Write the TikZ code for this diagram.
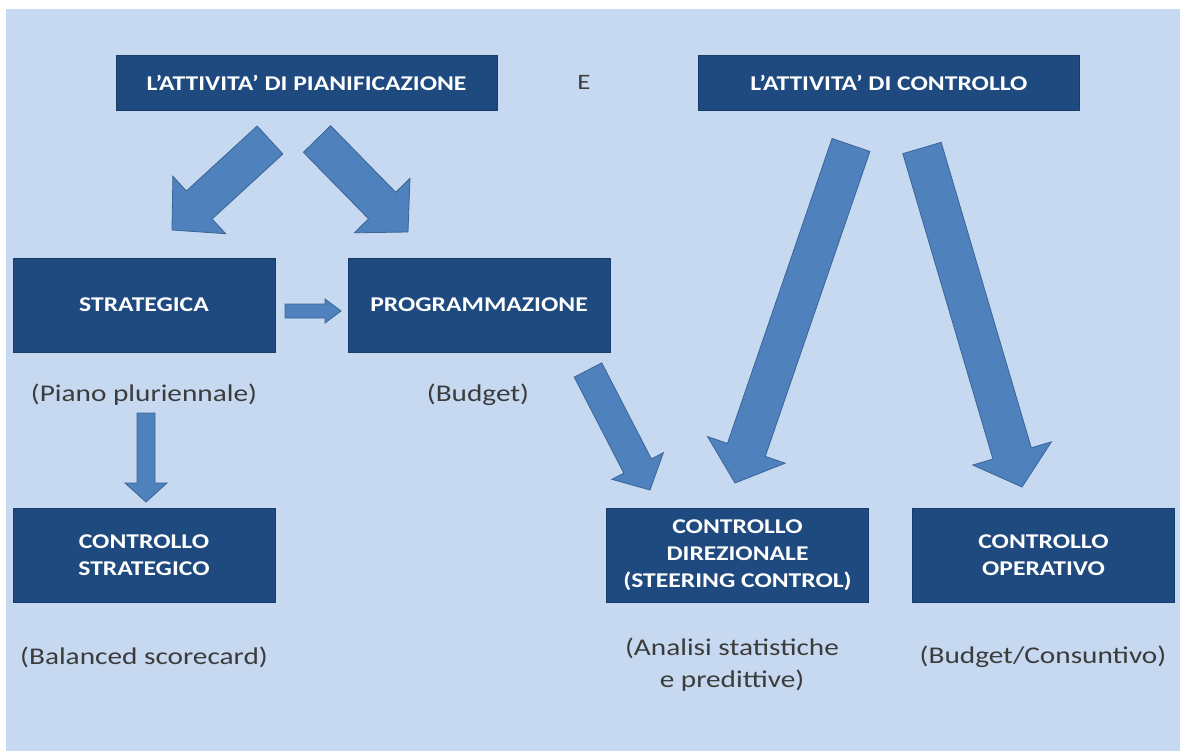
\documentclass[tikz,border=0pt]{standalone}
\usepackage{fontspec}
\setmainfont{Carlito}[FakeStretch=1.22]
\usetikzlibrary{calc}

\definecolor{bgblue}{HTML}{C6D9F0}
\definecolor{boxblue}{HTML}{1F4A80}
\definecolor{boxedge}{HTML}{183C69}
\definecolor{arrowblue}{HTML}{4F81BD}
\definecolor{arrowedge}{HTML}{3A6597}
\definecolor{labelgray}{HTML}{3C3C3C}

% block arrow: tail, tip, half shaft, half head, head length
\newcommand{\blockarrow}[5]{%
  \coordinate (hb) at ($(#2)!#5!(#1)$);
  \filldraw[arrowbody] ($(#1)!#3!90:(#2)$) -- ($(hb)!#3!90:(#2)$)
    -- ($(hb)!#4!90:(#2)$) -- (#2) -- ($(hb)!#4!-90:(#2)$)
    -- ($(hb)!#3!-90:(#2)$) -- ($(#1)!#3!-90:(#2)$) -- cycle;
}

\begin{document}
\begin{tikzpicture}[x=1pt,y=-1pt,
    box/.style={fill=boxblue,draw=boxedge,text=white,align=center,inner sep=0pt,
      font=\bfseries\fontsize{21}{27}\selectfont},
    topbox/.style={box,minimum width=381pt,minimum height=55pt},
    midbox/.style={box,minimum width=262pt,minimum height=94pt},
    note/.style={text=labelgray,align=center,font=\fontsize{24}{32}\selectfont},
    arrowbody/.style={fill=arrowblue,draw=arrowedge,line width=0.8pt,line join=miter}]
    \useasboundingbox (0,0) rectangle (1180,751);
    \fill[white] (0,0) rectangle (1180,751);
    \fill[bgblue] (6,9) rectangle (1180,751);

    % top row
    \node[topbox] (plan) at (306.5,82.5) {L’ATTIVITA’ DI PIANIFICAZIONE};
    \node[text=labelgray,font=\fontsize{22}{24}\selectfont] (e) at (584,82.5) {E};
    \node[topbox] (ctrl) at (889,82.5) {L’ATTIVITA’ DI CONTROLLO};

    % middle row
    \node[midbox] (strat) at (144,305) {STRATEGICA};
    \node[midbox] (prog) at (479,305) {PROGRAMMAZIONE};
    \node[note] (piano) at (144,395) {(Piano pluriennale)};
    \node[note] (budget) at (478,395) {(Budget)};

    % bottom row
    \node[midbox] (cstrat) at (144,555) {CONTROLLO\\STRATEGICO};
    \node[midbox] (cdir) at (737.5,555) {CONTROLLO\\DIREZIONALE\\(STEERING CONTROL)};
    \node[midbox] (coper) at (1043.5,555) {CONTROLLO\\OPERATIVO};
    \node[note] (bsc) at (144,657) {(Balanced scorecard)};
    \node[note] (analisi) at (732,665) {(Analisi statistiche\\e predittive)};
    \node[note] (consunt) at (1043,657) {(Budget/Consuntivo)};

    % block arrows
    \coordinate (t1) at (270,140); \coordinate (p1) at (172,230);
    \coordinate (t2) at (317,139); \coordinate (p2) at (408,232);
    \coordinate (t3) at (285,311); \coordinate (p3) at (341,311);
    \coordinate (t4) at (146,413); \coordinate (p4) at (146,502);
    \coordinate (t5) at (588,370); \coordinate (p5) at (650,490);
    \coordinate (t6) at (851,145); \coordinate (p6) at (735,483);
    \coordinate (t7) at (922,148); \coordinate (p7) at (1022,487);
    \blockarrow{t1}{p1}{19pt}{39pt}{37pt}
    \blockarrow{t2}{p2}{19pt}{39pt}{37pt}
    \blockarrow{t3}{p3}{7pt}{12pt}{16pt}
    \blockarrow{t4}{p4}{9pt}{21pt}{19pt}
    \blockarrow{t5}{p5}{15.5pt}{29pt}{27pt}
    \blockarrow{t6}{p6}{20pt}{41pt}{35pt}
    \blockarrow{t7}{p7}{20pt}{41pt}{35pt}
\end{tikzpicture}
\end{document}
